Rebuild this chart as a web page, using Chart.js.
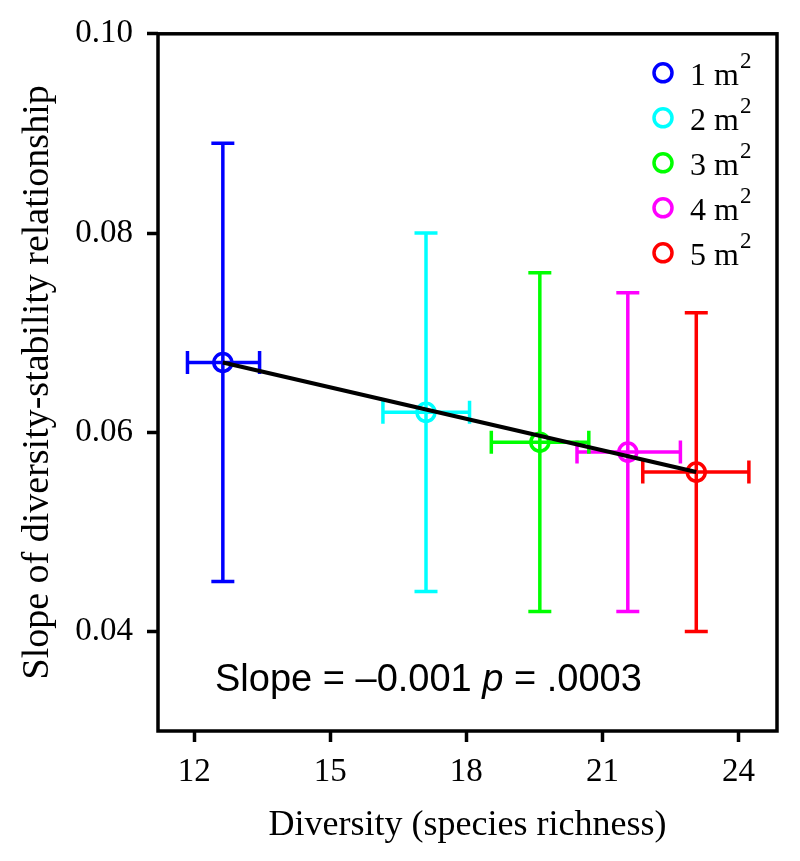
<!DOCTYPE html>
<html>
<head>
<meta charset="utf-8">
<script src="https://cdn.jsdelivr.net/npm/chart.js@4"></script>
<style>
  html, body { margin: 0; padding: 0; background: #fff; }
  canvas { display: block; }
</style>
</head>
<body>
<canvas id="chart" width="800" height="861"></canvas>
<script>
"use strict";

// plot sizes (m²) and their colours
const areas = ["1", "2", "3", "4", "5"];
const colors = ["#0000ff", "#00ffff", "#00ff00", "#ff00ff", "#ff0000"];

// diversity (x) with its error range
const diversity = [12.63, 17.11, 19.62, 21.56, 23.07];
const divLow = [11.85, 16.16, 18.55, 20.44, 21.89];
const divHigh = [13.44, 18.07, 20.70, 22.72, 24.23];

// slope of diversity-stability relationship (y) with its error range
const slope = [0.067, 0.062, 0.059, 0.058, 0.056];
const slopeLow = [0.045, 0.044, 0.042, 0.042, 0.040];
const slopeHigh = [0.089, 0.080, 0.076, 0.074, 0.072];

// fitted regression line
const fitX = [12.63, 23.07];
const fitY = [0.067, 0.056];

const xTicks = [12, 15, 18, 21, 24];
const yTicks = [0.04, 0.06, 0.08, 0.10];

const SERIF = "'Liberation Serif', 'Times New Roman', serif";
const SANS = "'Liberation Sans', Arial, sans-serif";

// datasets: error bars (drawn first), markers, fit line (on top)
const datasets = [];
areas.forEach((a, i) => {
  datasets.push({
    data: [{ x: diversity[i], y: slopeLow[i] }, { x: diversity[i], y: slopeHigh[i] }],
    showLine: true, borderColor: colors[i], borderWidth: 3.5,
    pointStyle: "line", pointRadius: 11.5, pointBorderWidth: 3.5,
    pointBorderColor: colors[i], order: 2
  });
  datasets.push({
    data: [{ x: divLow[i], y: slope[i] }, { x: divHigh[i], y: slope[i] }],
    showLine: true, borderColor: colors[i], borderWidth: 3.5,
    pointStyle: "line", pointRotation: 90, pointRadius: 11.5, pointBorderWidth: 3.5,
    pointBorderColor: colors[i], order: 2
  });
  datasets.push({
    label: a, isMarker: true,
    data: [{ x: diversity[i], y: slope[i] }],
    pointStyle: "circle", pointRadius: 9, pointBorderWidth: 3.5,
    pointBorderColor: colors[i], pointBackgroundColor: "rgba(0,0,0,0)",
    borderColor: colors[i], order: 1
  });
});
datasets.push({
  data: fitX.map((x, i) => ({ x: x, y: fitY[i] })),
  showLine: true, borderColor: "#000", borderWidth: 4, pointRadius: 0, order: 0
});

const framePlugin = {
  id: "frame",
  afterDatasetsDraw(chart) {
    const { ctx, chartArea: a } = chart;
    ctx.save();
    ctx.strokeStyle = "#000";
    ctx.lineWidth = 3.5;
    ctx.strokeRect(a.left, a.top, a.right - a.left, a.bottom - a.top);
    ctx.restore();
  }
};

const legendPlugin = {
  id: "areaLegend",
  afterDraw(chart) {
    const { ctx, chartArea: a } = chart;
    const markers = chart.data.datasets.filter(d => d.isMarker);
    ctx.save();
    markers.forEach((d, i) => {
      const cy = a.top + 39 + i * 45;
      const cx = a.right - 114;
      ctx.beginPath();
      ctx.arc(cx, cy, 9, 0, Math.PI * 2);
      ctx.strokeStyle = d.pointBorderColor;
      ctx.lineWidth = 3.5;
      ctx.stroke();
      ctx.fillStyle = "#000";
      ctx.textBaseline = "alphabetic";
      ctx.textAlign = "left";
      ctx.font = "32px " + SERIF;
      const t = d.label + " m";
      const tx = cx + 27;
      ctx.fillText(t, tx, cy + 12);
      const w = ctx.measureText(t).width;
      ctx.font = "23px " + SERIF;
      ctx.fillText("2", tx + w + 1, cy - 5);
    });
    ctx.restore();
  }
};

const statPlugin = {
  id: "stat",
  afterDraw(chart) {
    const { ctx, chartArea: a } = chart;
    ctx.save();
    ctx.fillStyle = "#000";
    ctx.textBaseline = "alphabetic";
    ctx.textAlign = "left";
    let x = a.left + 57;
    const y = a.top + 657;
    const parts = [
      ["Slope = \u20130.001 ", "38px " + SANS],
      ["p", "italic 38px " + SANS],
      [" = .0003", "38px " + SANS]
    ];
    parts.forEach(([s, f]) => {
      ctx.font = f;
      ctx.fillText(s, x, y);
      x += ctx.measureText(s).width;
    });
    ctx.restore();
  }
};

new Chart(document.getElementById("chart"), {
  type: "scatter",
  data: { datasets: datasets },
  options: {
    responsive: false,
    animation: false,
    events: [],
    layout: { padding: { top: 31, right: 23, left: 0, bottom: 0 } },
    plugins: { legend: { display: false }, tooltip: { enabled: false } },
    scales: {
      x: {
        type: "linear", min: 11.2, max: 24.85,
        afterBuildTicks: s => { s.ticks = xTicks.map(v => ({ value: v })); },
        afterFit: s => { s.height = 130; },
        grid: { display: true, drawOnChartArea: false, drawTicks: true, tickLength: 11, tickWidth: 3.5, tickColor: "#000" },
        border: { display: false },
        ticks: { color: "#000", font: { family: SERIF, size: 33 }, padding: 11, maxRotation: 0 },
        title: { display: true, text: "Diversity (species richness)", color: "#000",
                 font: { family: SERIF, size: 36 }, padding: { top: 0, bottom: 14 } }
      },
      y: {
        type: "linear", min: 0.03, max: 0.10,
        afterBuildTicks: s => { s.ticks = yTicks.map(v => ({ value: v })); },
        afterFit: s => { s.width = 158; },
        grid: { display: true, drawOnChartArea: false, drawTicks: true, tickLength: 11, tickWidth: 3.5, tickColor: "#000" },
        border: { display: false },
        ticks: { color: "#000", font: { family: SERIF, size: 33 }, padding: 14,
                 callback: v => v.toFixed(2) },
        title: { display: true, text: "Slope of diversity-stability relationship", color: "#000",
                 font: { family: SERIF, size: 38 }, padding: { top: 15, bottom: 0 } }
      }
    }
  },
  plugins: [framePlugin, legendPlugin, statPlugin]
});
</script>
</body>
</html>
